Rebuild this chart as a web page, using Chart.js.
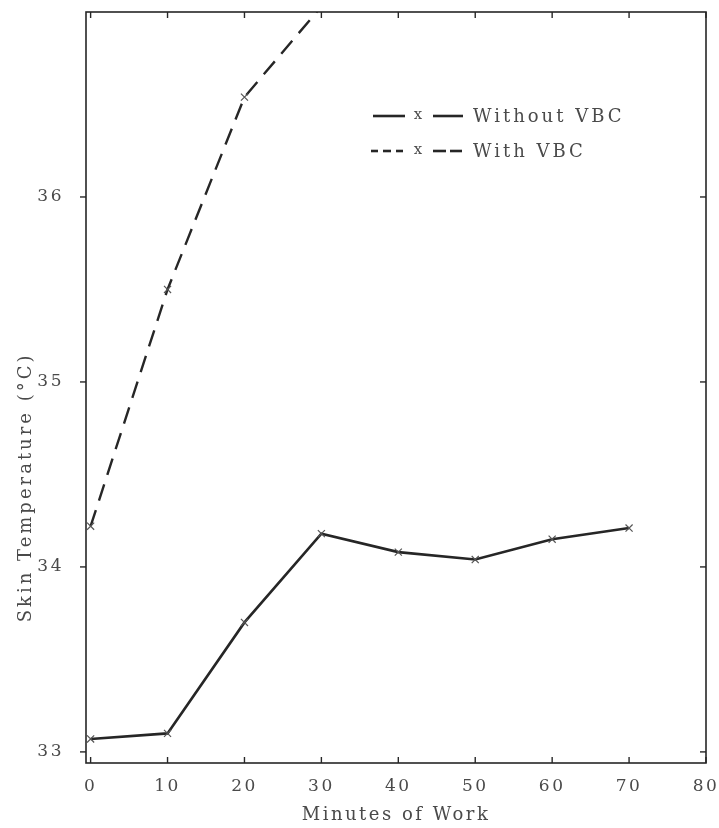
<!DOCTYPE html>
<html>
<head>
<meta charset="utf-8">
<script src="https://cdn.jsdelivr.net/npm/chart.js@4.4.0/dist/chart.umd.min.js"></script>
<style>
  html, body { margin: 0; padding: 0; background: #ffffff; }
  #wrap { width: 719px; height: 828px; position: relative; }
</style>
</head>
<body>
<div id="wrap"><canvas id="c" width="719" height="828"></canvas></div>
<script>
// ---- data ----
const minutes = [0, 10, 20, 30, 40, 50, 60, 70];
const withoutVBC = [33.07, 33.10, 33.70, 34.18, 34.08, 34.04, 34.15, 34.21];
const withMinutes = [0, 10, 20, 30];
const withVBC = [34.22, 35.50, 36.54, 37.03];
const xTicks = [0, 10, 20, 30, 40, 50, 60, 70, 80];
const yTicks = [33, 34, 35, 36];
const seriesNames = ['Without VBC', 'With VBC'];
const xTitle = 'Minutes of Work';
const yTitle = 'Skin Temperature (°C)';

const INK = '#262626';
const TEXT = '#4a4a4a';
const FONT = '"DejaVu Serif", "Liberation Serif", serif';

const spacing = {
  id: 'spacing',
  beforeLayout(chart) { chart.ctx.letterSpacing = '2.5px'; },
  beforeDraw(chart) { chart.ctx.letterSpacing = '2.5px'; },
  afterDraw(chart) { chart.ctx.letterSpacing = '0px'; }
};

const frame = {
  id: 'frame',
  afterDraw(chart) {
    const { ctx, chartArea: a, scales } = chart;
    ctx.save();
    ctx.strokeStyle = INK;
    ctx.lineWidth = 1.6;
    ctx.strokeRect(a.left, a.top, a.right - a.left, a.bottom - a.top);
    ctx.lineWidth = 1.4;
    const t = 6;
    xTicks.forEach(v => {
      const px = scales.x.getPixelForValue(v);
      ctx.beginPath(); ctx.moveTo(px, a.bottom); ctx.lineTo(px, a.bottom - t); ctx.stroke();
      ctx.beginPath(); ctx.moveTo(px, a.top); ctx.lineTo(px, a.top + t); ctx.stroke();
    });
    yTicks.forEach(v => {
      const py = scales.y.getPixelForValue(v);
      ctx.beginPath(); ctx.moveTo(a.right, py); ctx.lineTo(a.right - t, py); ctx.stroke();
      ctx.beginPath(); ctx.moveTo(a.left, py); ctx.lineTo(a.left - t, py); ctx.stroke();
    });
    // y axis title (sits lower than the axis centre in the reference)
    ctx.fillStyle = TEXT;
    ctx.font = '18px ' + FONT;
    ctx.letterSpacing = '3px';
    ctx.textAlign = 'center';
    ctx.textBaseline = 'middle';
    ctx.translate(26, scales.y.getPixelForValue(34.43));
    ctx.rotate(-Math.PI / 2);
    ctx.fillText(yTitle, 0, 0);
    ctx.restore();
  }
};

const legendPlugin = {
  id: 'customLegend',
  afterDraw(chart) {
    const { ctx } = chart;
    ctx.save();
    const rows = [
      { y: 116, pre: [[373, 405]], post: [[433, 463]], name: seriesNames[0] },
      { y: 151, pre: [[371, 378], [383, 391], [396, 403]], post: [[433, 446], [450, 462]], name: seriesNames[1] }
    ];
    rows.forEach(r => {
      ctx.strokeStyle = INK;
      ctx.lineWidth = 2.6;
      r.pre.concat(r.post).forEach(s => {
        ctx.beginPath(); ctx.moveTo(s[0], r.y); ctx.lineTo(s[1], r.y); ctx.stroke();
      });
      ctx.fillStyle = TEXT;
      ctx.letterSpacing = '0px';
      ctx.font = '15px ' + FONT;
      ctx.textAlign = 'center';
      ctx.textBaseline = 'middle';
      ctx.fillText('x', 418, r.y - 1);
      ctx.font = '18px ' + FONT;
      ctx.textAlign = 'left';
      ctx.letterSpacing = '3px';
      ctx.fillText(r.name, 473, r.y + 1);
      ctx.letterSpacing = '0px';
    });
    ctx.restore();
  }
};

new Chart(document.getElementById('c'), {
  type: 'line',
  data: {
    datasets: [
      {
        label: seriesNames[0],
        data: minutes.map((m, i) => ({ x: m, y: withoutVBC[i] })),
        borderColor: INK,
        borderWidth: 2.6,
        pointStyle: 'crossRot',
        pointRadius: 5,
        pointBorderWidth: 1.2,
        pointBorderColor: '#555',
        tension: 0,
        fill: false
      },
      {
        label: seriesNames[1],
        data: withMinutes.map((m, i) => ({ x: m, y: withVBC[i] })),
        borderColor: INK,
        borderWidth: 2.4,
        borderDash: [17, 10],
        pointStyle: 'crossRot',
        pointRadius: withMinutes.map((m, i) => i === withMinutes.length - 1 ? 0 : 5),
        pointBorderWidth: 1.2,
        pointBorderColor: '#555',
        tension: 0,
        fill: false
      }
    ]
  },
  options: {
    responsive: false,
    animation: false,
    devicePixelRatio: 1,
    layout: { padding: { top: 12, right: 13, left: 0, bottom: 0 } },
    plugins: { legend: { display: false }, tooltip: { enabled: false } },
    clip: true,
    scales: {
      x: {
        type: 'linear',
        min: -0.6,
        max: 80,
        afterBuildTicks: s => { s.ticks = xTicks.map(v => ({ value: v })); },
        afterFit: s => { s.height = 65; s.paddingLeft = 0; s.paddingRight = 0; },
        grid: { display: false, drawTicks: false },
        border: { display: false },
        ticks: { color: TEXT, font: { family: FONT, size: 17 }, padding: 13, maxRotation: 0, autoSkip: false },
        title: { display: true, text: xTitle, color: TEXT, font: { family: FONT, size: 18 }, padding: { top: 0, bottom: 2 } }
      },
      y: {
        type: 'linear',
        min: 32.94,
        max: 37.0,
        afterBuildTicks: s => { s.ticks = yTicks.map(v => ({ value: v })); },
        afterFit: s => { s.width = 86; s.paddingTop = 0; s.paddingBottom = 0; },
        grid: { display: false, drawTicks: false },
        border: { display: false },
        ticks: { color: TEXT, font: { family: FONT, size: 17 }, padding: 22, autoSkip: false },
        title: { display: false }
      }
    }
  },
  plugins: [spacing, frame, legendPlugin]
});
</script>
</body>
</html>
